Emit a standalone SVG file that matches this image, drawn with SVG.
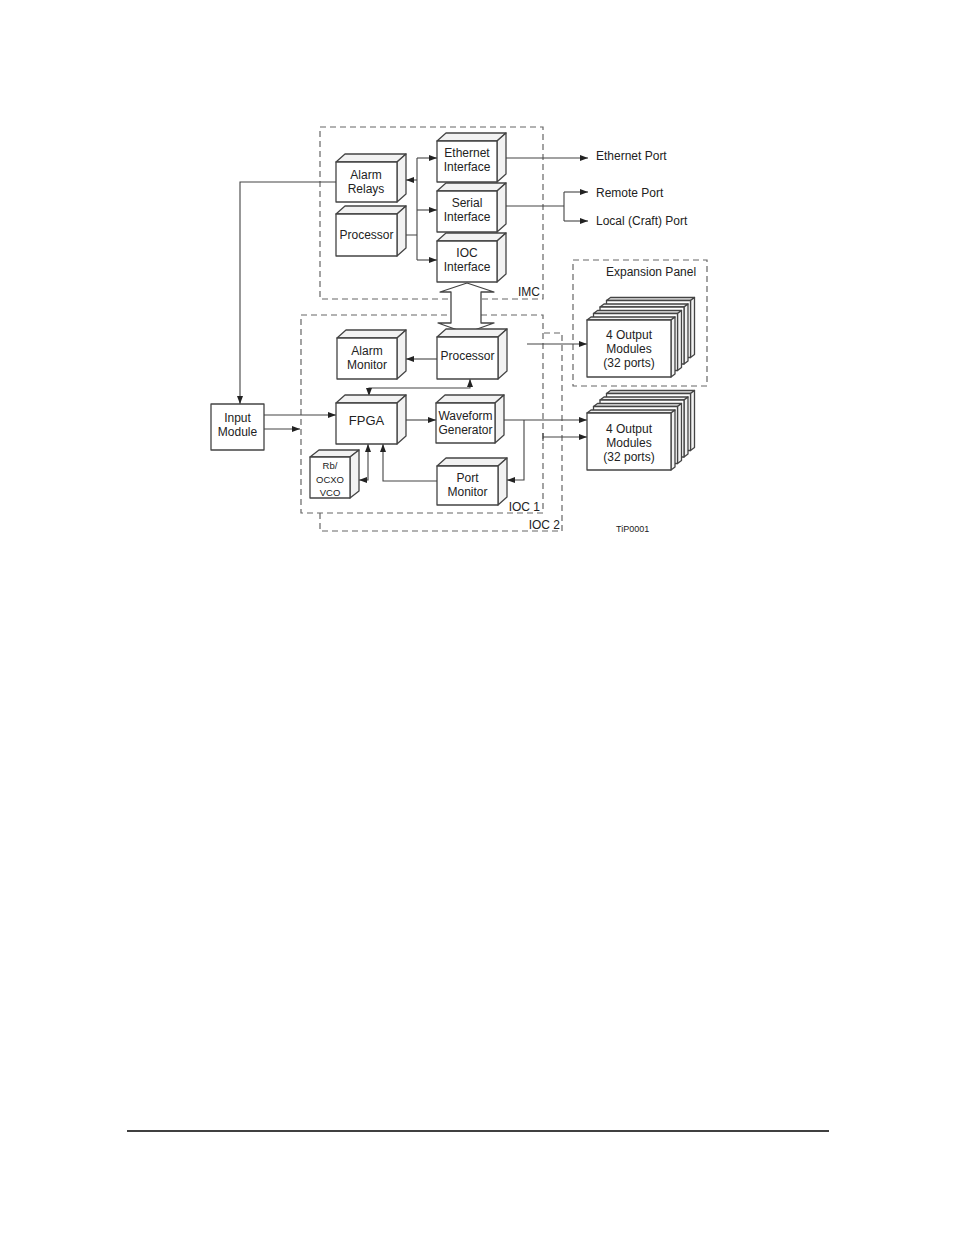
<svg xmlns="http://www.w3.org/2000/svg" xmlns:xlink="http://www.w3.org/1999/xlink" width="954" height="1235" viewBox="0 0 954 1235">
<style>
text{font-family:"Liberation Sans",Arial,sans-serif;font-size:12px;fill:#222;}
.c{text-anchor:middle;}
.box rect,.box path{fill:#fff;stroke:#444;stroke-width:1.3;stroke-linejoin:round;}
.box path.f{fill:#f2f2f2;}
.dash{fill:none;stroke:#666;stroke-width:1.2;stroke-dasharray:6,4;}
.wire{fill:none;stroke:#444;stroke-width:1.1;}
.arr{marker-end:url(#ah);}
.arr2{marker-start:url(#ah);marker-end:url(#ah);}
</style>
<defs>
<marker id="ah" viewBox="0 0 8 6" refX="8" refY="3" markerWidth="8" markerHeight="6" markerUnits="userSpaceOnUse" orient="auto-start-reverse">
<path d="M0,0 L8,3 L0,6 Z" fill="#222"/>
</marker>
<g id="card" class="box">
<path class="f" d="M0,0 L4,-3 L88,-3 L84,0 Z"/>
<path class="f" d="M84,0 L88,-3 L88,54 L84,57 Z"/>
<rect x="0" y="0" width="84" height="57"/>
</g>
</defs>
<rect width="954" height="1235" fill="#fff"/>

<g id="frames">
<rect class="dash" x="320" y="127" width="223" height="172"/>
<path class="dash" d="M320,513 V531 H562 V333 H543"/>
<rect class="dash" x="301" y="315" width="242" height="198"/>
<rect class="dash" x="573" y="260" width="134" height="126"/>
<text x="540" y="296" text-anchor="end">IMC</text>
<text x="540" y="511" text-anchor="end">IOC 1</text>
<text x="560" y="529" text-anchor="end">IOC 2</text>
<text x="606" y="276">Expansion Panel</text>
<text x="616" y="532" style="font-size:9px">TiP0001</text>
</g>

<g id="connectors">
<path class="wire" d="M397,235 H417 M417,158 V260"/>
<path class="wire arr" d="M417,158 H437"/>
<path class="wire arr" d="M417,210 H437"/>
<path class="wire arr" d="M417,260 H437"/>
<path class="wire arr" d="M417,180 H406"/>
<path class="wire arr" d="M336,182 H240 V404"/>
<path class="wire arr" d="M506,158 H588"/>
<path class="wire" d="M506,206 H564 M564,192 V221"/>
<path class="wire arr" d="M564,192 H588"/>
<path class="wire arr" d="M564,221 H588"/>
<path class="wire arr" d="M264,415 H336"/>
<path class="wire arr" d="M264,429 H300"/>
<path class="wire arr" d="M437,359 H406"/>
<path class="wire arr2" d="M470,379 V388 H369 V396"/>
<path class="wire arr" d="M406,420 H436"/>
<path class="wire arr2" d="M368,444 V480 H359"/>
<path class="wire arr" d="M437,481 H383 V444"/>
<path class="wire arr" d="M504,420 H587"/>
<path class="wire arr" d="M524,420 V480 H507"/>
<path class="wire arr" d="M527,344 H587"/>
<path class="wire arr" d="M543,437 H587"/>
<path class="wire" d="M543,433 V441"/>
<path d="M467,283 L494,292 L481,292 L481,323 L494,323 L466,333 L438,323 L451,323 L451,292 L440,292 Z" fill="#fff" stroke="#444" stroke-width="1.3" stroke-linejoin="round"/>
</g>

<g id="ethernet-interface" class="box">
<path class="f" d="M437,141 L446,133 L506,133 L497,141 Z"/>
<path class="f" d="M497,141 L506,133 L506,174 L497,182 Z"/>
<rect x="437" y="141" width="60" height="41"/>
<text class="c" x="467" y="157">Ethernet</text>
<text class="c" x="467" y="171">Interface</text>
</g>
<g id="serial-interface" class="box">
<path class="f" d="M437,191 L446,183 L506,183 L497,191 Z"/>
<path class="f" d="M497,191 L506,183 L506,224 L497,232 Z"/>
<rect x="437" y="191" width="60" height="41"/>
<text class="c" x="467" y="207">Serial</text>
<text class="c" x="467" y="221">Interface</text>
</g>
<g id="ioc-interface" class="box">
<path class="f" d="M437,241 L446,233 L506,233 L497,241 Z"/>
<path class="f" d="M497,241 L506,233 L506,274 L497,282 Z"/>
<rect x="437" y="241" width="60" height="41"/>
<text class="c" x="467" y="257">IOC</text>
<text class="c" x="467" y="271">Interface</text>
</g>
<g id="alarm-relays" class="box">
<path class="f" d="M336,162 L345,154 L406,154 L397,162 Z"/>
<path class="f" d="M397,162 L406,154 L406,194 L397,202 Z"/>
<rect x="336" y="162" width="61" height="40"/>
<text class="c" x="366" y="179">Alarm</text>
<text class="c" x="366" y="193">Relays</text>
</g>
<g id="imc-processor" class="box">
<path class="f" d="M336,214 L345,206 L406,206 L397,214 Z"/>
<path class="f" d="M397,214 L406,206 L406,248 L397,256 Z"/>
<rect x="336" y="214" width="61" height="42"/>
<text class="c" x="366.5" y="239">Processor</text>
</g>
<g id="alarm-monitor" class="box">
<path class="f" d="M337,338 L346,330 L406,330 L397,338 Z"/>
<path class="f" d="M397,338 L406,330 L406,371 L397,379 Z"/>
<rect x="337" y="338" width="60" height="41"/>
<text class="c" x="367" y="355">Alarm</text>
<text class="c" x="367" y="369">Monitor</text>
</g>
<g id="ioc-processor" class="box">
<path class="f" d="M437,337 L446,329 L507,329 L498,337 Z"/>
<path class="f" d="M498,337 L507,329 L507,371 L498,379 Z"/>
<rect x="437" y="337" width="61" height="42"/>
<text class="c" x="467.5" y="360">Processor</text>
</g>
<g id="fpga" class="box">
<path class="f" d="M336,403 L345,395 L406,395 L397,403 Z"/>
<path class="f" d="M397,403 L406,395 L406,436 L397,444 Z"/>
<rect x="336" y="403" width="61" height="41"/>
<text class="c" x="366.5" y="425" style="font-size:13px">FPGA</text>
</g>
<g id="waveform-generator" class="box">
<path class="f" d="M436,403 L445,395 L504,395 L495,403 Z"/>
<path class="f" d="M495,403 L504,395 L504,435 L495,443 Z"/>
<rect x="436" y="403" width="59" height="40"/>
<text class="c" x="465.5" y="420">Waveform</text>
<text class="c" x="465.5" y="434">Generator</text>
</g>
<g id="port-monitor" class="box">
<path class="f" d="M437,466 L446,458 L507,458 L498,466 Z"/>
<path class="f" d="M498,466 L507,458 L507,497 L498,505 Z"/>
<rect x="437" y="466" width="61" height="39"/>
<text class="c" x="467.5" y="482">Port</text>
<text class="c" x="467.5" y="496">Monitor</text>
</g>
<g id="oscillator" class="box">
<path class="f" d="M310,457 L319,450 L359,450 L350,457 Z"/>
<path class="f" d="M350,457 L359,450 L359,491 L350,498 Z"/>
<rect x="310" y="457" width="40" height="41"/>
<text class="c" x="330" y="469" style="font-size:9.5px">Rb/</text>
<text class="c" x="330" y="483" style="font-size:9.5px">OCXO</text>
<text class="c" x="330" y="496" style="font-size:9.5px">VCO</text>
</g>
<g id="input-module" class="box">
<rect x="211" y="404" width="53" height="46"/>
<text class="c" x="237.5" y="422">Input</text>
<text class="c" x="237.5" y="436">Module</text>
</g>
<g id="expansion-output-modules">
<use xlink:href="#card" x="606.5" y="300.5"/>
<use xlink:href="#card" x="600" y="307"/>
<use xlink:href="#card" x="593.5" y="313.5"/>
<use xlink:href="#card" x="587" y="320"/>
<text class="c" x="629" y="339">4 Output</text>
<text class="c" x="629" y="353">Modules</text>
<text class="c" x="629" y="367">(32 ports)</text>
</g>
<g id="output-modules">
<use xlink:href="#card" x="606.5" y="393.5"/>
<use xlink:href="#card" x="600" y="400"/>
<use xlink:href="#card" x="593.5" y="406.5"/>
<use xlink:href="#card" x="587" y="413"/>
<text class="c" x="629" y="433">4 Output</text>
<text class="c" x="629" y="447">Modules</text>
<text class="c" x="629" y="461">(32 ports)</text>
</g>
<g id="port-labels">
<text x="596" y="160">Ethernet Port</text>
<text x="596" y="197">Remote Port</text>
<text x="596" y="225">Local (Craft) Port</text>
</g>
<path d="M127,1131 H829" stroke="#000" stroke-width="1.5"/>
</svg>
